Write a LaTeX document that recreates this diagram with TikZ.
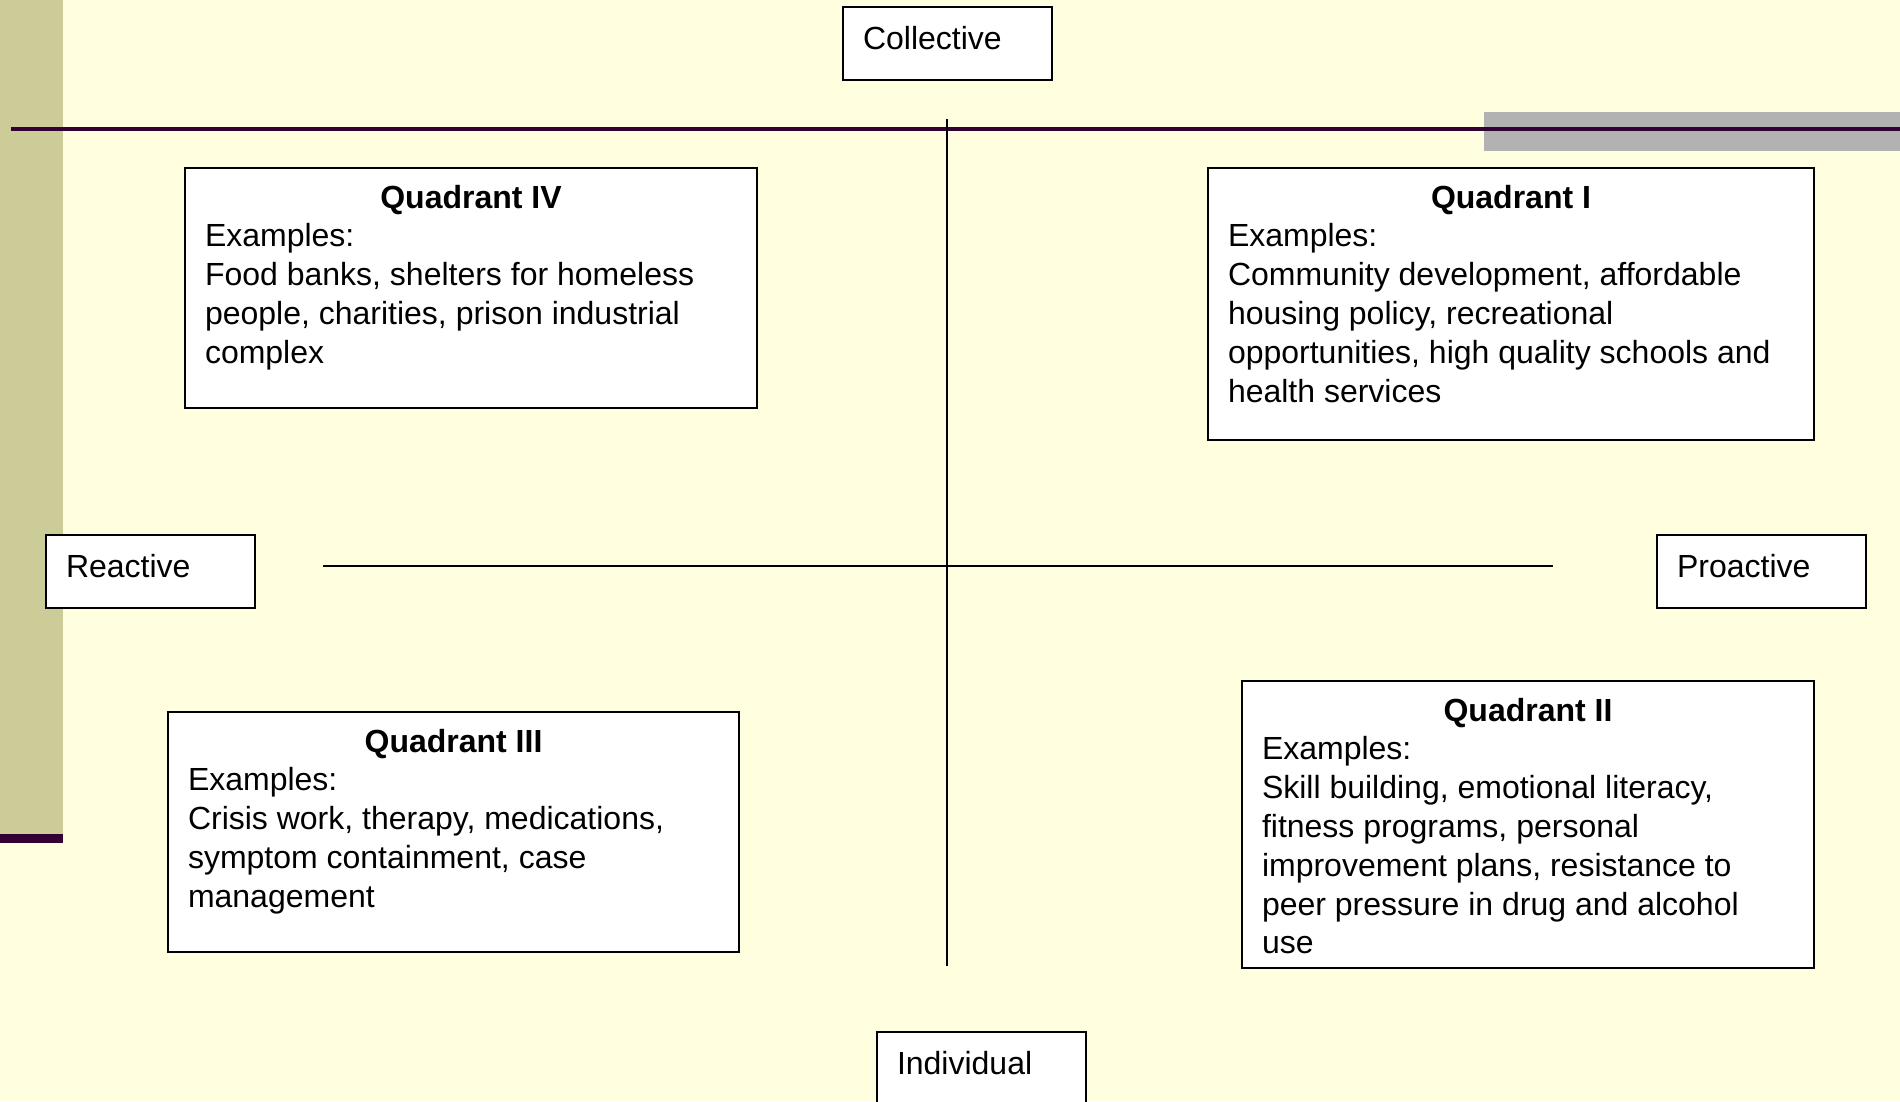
\documentclass[tikz,border=0pt]{standalone}
\usepackage{fontspec}
\setmainfont{Liberation Sans}
\definecolor{slidebg}{HTML}{FFFFE0}
\definecolor{strip}{HTML}{CCCC99}
\definecolor{plum}{HTML}{330033}
\definecolor{bargray}{HTML}{B2B2B2}
\newcommand{\qtext}[4]{\parbox[t][#2][t]{#1}{\strut\centering\textbf{#3}\par\raggedright #4}}
\tikzset{
  qbox/.style={draw, fill=white, line width=2pt, anchor=north west, inner xsep=20pt, inner ysep=13pt},
  lbox/.style={draw, fill=white, line width=2pt, anchor=north west, inner xsep=20pt, inner ysep=19pt,
    text width=#1, align=left, text height=23pt, text depth=12pt},
  axis/.style={line width=2.5pt},
}
\begin{document}
\begin{tikzpicture}[x=1pt,y=-1pt,font=\fontsize{32}{38.8}\selectfont]
\useasboundingbox (0,0) rectangle (1900,1101);
% slide background
\fill[slidebg] (0,0) rectangle (1900,1101);
\fill[strip] (0,0) rectangle (63,834);
\fill[plum] (0,834) rectangle (63,843);
\fill[bargray] (1484,112) rectangle (1900,151);
\draw[plum, line width=3.5pt] (11,129) -- (1900,129);

% axes
\coordinate (vtop) at (947,119);
\coordinate (vbot) at (947,966);
\coordinate (hleft) at (323,566);
\coordinate (hright) at (1553,566);
\draw[axis] (vtop) -- (vbot);
\draw[axis] (hleft) -- (hright);

% axis labels
\node[lbox=169pt] (coll) at (842,6) {Collective};
\node[lbox=169pt] (react) at (45,534) {Reactive};
\node[lbox=169pt] (proact) at (1656,534) {Proactive};
\node[lbox=169pt] (indiv) at (876,1031) {Individual};

% quadrants
\node[qbox] (q4) at (184,167) {\qtext{532pt}{214pt}{Quadrant IV}{Examples:\\
  Food banks, shelters for homeless\\
  people, charities, prison industrial\\
  complex}};
\node[qbox] (q1) at (1207,167) {\qtext{566pt}{246pt}{Quadrant I}{Examples:\\
  Community development, affordable\\
  housing policy, recreational\\
  opportunities, high quality schools and\\
  health services}};
\node[qbox] (q3) at (167,711) {\qtext{531pt}{214pt}{Quadrant III}{Examples:\\
  Crisis work, therapy, medications,\\
  symptom containment, case\\
  management}};
\node[qbox] (q2) at (1241,680) {\qtext{532pt}{261pt}{Quadrant II}{Examples:\\
  Skill building, emotional literacy,\\
  fitness programs, personal\\
  improvement plans, resistance to\\
  peer pressure in drug and alcohol\\
  use}};
\end{tikzpicture}
\end{document}
